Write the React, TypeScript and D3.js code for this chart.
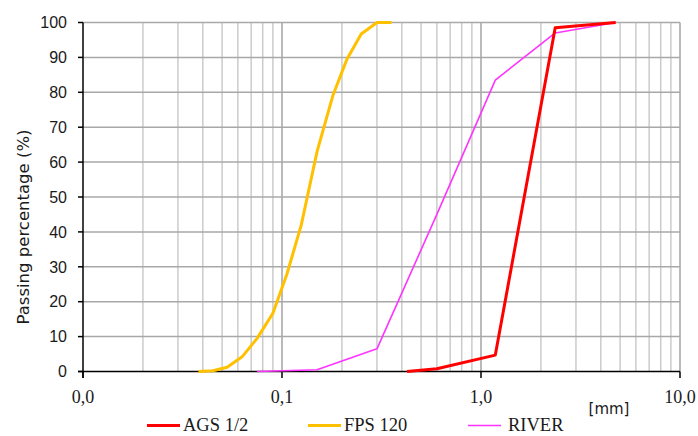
import React from "react";
import * as d3 from "d3";

const yTicks = [0, 10, 20, 30, 40, 50, 60, 70, 80, 90, 100];
const xMajor = [0.01, 0.1, 1, 10];
const xMajorLabels = ["0,0", "0,1", "1,0", "10,0"];

const agsSizes = [0.425, 0.6, 1.18, 2.36, 4.75];
const agsPassing = [0, 0.8, 4.7, 98.5, 100];

const fpsSizes = [0.038, 0.045, 0.053, 0.063, 0.075, 0.09, 0.106, 0.125, 0.15, 0.18, 0.212, 0.25, 0.3, 0.355];
const fpsPassing = [0, 0.2, 1.2, 4.2, 9.5, 16.7, 28, 42, 63, 79, 89.5, 96.7, 100, 100];

const riverSizes = [0.075, 0.15, 0.3, 0.6, 1.18, 2.36, 4.75];
const riverPassing = [0, 0.5, 6.5, 45, 83.5, 97, 100];

const seriesNames = ["AGS 1/2", "FPS 120", "RIVER"];
const seriesColors = ["#ff0000", "#ffc000", "#ff33ff"];
const seriesWidths = [3, 3, 1.6];

export default function App() {
  const W = 698, H = 436;
  const left = 83, right = 680, top = 22.5, bottom = 371.5;
  const x = d3.scaleLog().domain([0.01, 10]).range([left, right]);
  const y = d3.scaleLinear().domain([0, 100]).range([bottom, top]);

  const minor: number[] = [];
  [0.01, 0.1, 1].forEach((d) => {
    for (let k = 2; k <= 9; k++) minor.push(d * k);
  });

  const line = d3
    .line<[number, number]>()
    .x((d) => x(d[0]))
    .y((d) => y(d[1]));

  const series = [
    { sizes: agsSizes, vals: agsPassing },
    { sizes: fpsSizes, vals: fpsPassing },
    { sizes: riverSizes, vals: riverPassing },
  ];
  const drawOrder = [1, 2, 0];

  const legendX = [147, 308, 468];

  return (
    <svg width={W} height={H} style={{ position: "absolute", left: 0, top: 0, background: "#fff" }}>
      <rect x={0} y={0} width={W} height={H} fill="#fff" />
      {/* minor vertical grid */}
      {minor.map((m, i) => (
        <line key={"mv" + i} x1={x(m)} x2={x(m)} y1={top} y2={bottom} stroke="#cbcbcb" strokeWidth={1.5} />
      ))}
      {/* major vertical grid */}
      {xMajor.slice(1).map((m, i) => (
        <line key={"Mv" + i} x1={x(m)} x2={x(m)} y1={top} y2={bottom} stroke="#a3a3a3" strokeWidth={1.5} />
      ))}
      {/* horizontal grid */}
      {yTicks.slice(1).map((t) => (
        <line key={"h" + t} x1={left} x2={right} y1={y(t)} y2={y(t)} stroke="#a8a8a8" strokeWidth={1.5} />
      ))}
      {/* axes */}
      <line x1={left} x2={left} y1={top} y2={bottom + 6.5} stroke="#000" strokeWidth={1.5} />
      <line x1={left - 5} x2={right} y1={bottom} y2={bottom} stroke="#000" strokeWidth={1.5} />
      {yTicks.map((t) => (
        <line key={"yt" + t} x1={left - 5} x2={left} y1={y(t)} y2={y(t)} stroke="#000" strokeWidth={1.5} />
      ))}
      {xMajor.map((m, i) => (
        <line key={"xt" + i} x1={x(m)} x2={x(m)} y1={bottom} y2={bottom + 6.5} stroke="#000" strokeWidth={1.5} />
      ))}
      {/* y tick labels */}
      {yTicks.map((t) => (
        <text
          key={"yl" + t}
          x={67}
          y={y(t)}
          dy="0.36em"
          textAnchor="end"
          fontFamily="Liberation Sans, Arial, sans-serif"
          fontSize={16}
          fill="#1a1a1a"
        >
          {t}
        </text>
      ))}
      {/* x tick labels */}
      {xMajor.map((m, i) => (
        <text
          key={"xl" + i}
          x={x(m)}
          y={403}
          textAnchor="middle"
          fontFamily="Liberation Serif, Times New Roman, serif"
          fontSize={18}
          fill="#1a1a1a"
        >
          {xMajorLabels[i]}
        </text>
      ))}
      <text x={609} y={414} textAnchor="middle" fontFamily="DejaVu Sans, sans-serif" fontSize={15} fill="#1a1a1a">
        [mm]
      </text>
      <text
        transform={`translate(29,227) rotate(-90)`}
        textAnchor="middle"
        fontFamily="DejaVu Sans, sans-serif"
        fontSize={16.5}
        fill="#1a1a1a"
      >
        Passing percentage (%)
      </text>
      {/* series */}
      {drawOrder.map((si) => {
        const s = series[si];
        const pts = s.sizes.map((v, j) => [v, s.vals[j]] as [number, number]);
        return (
          <path
            key={"s" + si}
            d={line(pts) || ""}
            fill="none"
            stroke={seriesColors[si]}
            strokeWidth={seriesWidths[si]}
            strokeLinejoin="round"
          />
        );
      })}
      {/* legend */}
      {seriesNames.map((n, i) => (
        <g key={"lg" + i}>
          <line
            x1={legendX[i]}
            x2={legendX[i] + 33}
            y1={425.5}
            y2={425.5}
            stroke={seriesColors[i]}
            strokeWidth={seriesWidths[i]}
          />
          <text
            x={legendX[i] + 36 + (i === 2 ? 4 : 0)}
            y={431}
            fontFamily="Liberation Serif, Times New Roman, serif"
            fontSize={18.5}
            fill="#1a1a1a"
          >
            {n}
          </text>
        </g>
      ))}
    </svg>
  );
}
